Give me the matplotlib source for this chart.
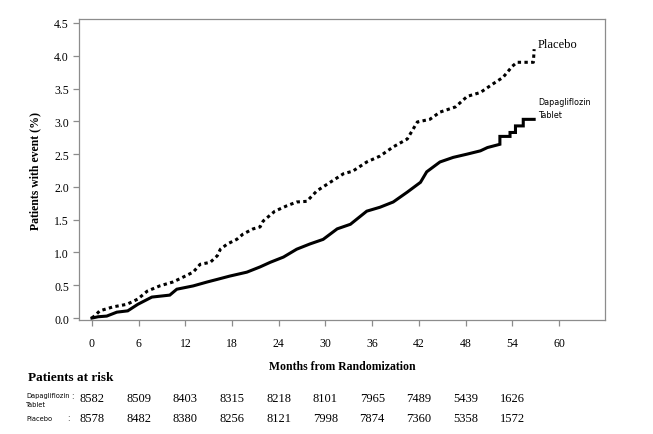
import numpy as np
import matplotlib
matplotlib.use('Agg')
import matplotlib.pyplot as plt
import matplotlib.transforms as mtransforms

# cumulative incidence (months, %)
placebo_t = [0, 0.5, 1.0, 2.7, 4.5, 5.9, 7.1, 8.7, 10.4, 11.3, 13.0, 13.9, 15.2,
             16.1, 16.5, 17.4, 18.6, 19.4, 20.7, 21.6, 22.0, 23.5, 25.0, 26.3,
             27.6, 28.9, 30.6, 32.3, 33.5, 35.3, 37.0, 38.7, 40.5, 41.8, 43.4,
             44.7, 46.7, 48.2, 49.9, 51.5, 52.8, 54.0, 54.6, 56.7, 56.8]
placebo_y = [0.0, 0.05, 0.11, 0.17, 0.21, 0.29, 0.41, 0.49, 0.55, 0.60, 0.70, 0.82, 0.85,
             0.95, 1.05, 1.13, 1.20, 1.28, 1.36, 1.39, 1.48, 1.63, 1.71, 1.77,
             1.78, 1.94, 2.07, 2.20, 2.24, 2.38, 2.47, 2.61, 2.73, 2.99, 3.03,
             3.14, 3.22, 3.38, 3.44, 3.57, 3.67, 3.84, 3.90, 3.90, 4.10]

dapa_t = [0, 0.8, 1.9, 3.2, 4.6, 5.9, 7.7, 10.0, 10.9, 13.0, 14.8, 16.1, 17.7,
          19.9, 21.6, 22.9, 24.6, 26.3, 28.0, 29.7, 31.5, 33.2, 35.3, 37.0,
          38.7, 40.5, 42.2, 43.0, 44.7, 46.4, 48.2, 49.9, 50.8, 52.4, 52.4,
          52.8, 53.7, 53.7, 54.4, 54.4, 55.4, 55.4, 56.8]
dapa_y = [0.0, 0.02, 0.03, 0.09, 0.11, 0.21, 0.32, 0.35, 0.44, 0.49, 0.55, 0.59, 0.64,
          0.70, 0.78, 0.85, 0.93, 1.05, 1.13, 1.20, 1.36, 1.43, 1.63, 1.69,
          1.77, 1.92, 2.07, 2.23, 2.38, 2.45, 2.50, 2.55, 2.60, 2.65, 2.77,
          2.77, 2.77, 2.83, 2.83, 2.93, 2.93, 3.03, 3.03]

risk_months = [0, 6, 12, 18, 24, 30, 36, 42, 48, 54]
risk_dapa = [8582, 8509, 8403, 8315, 8218, 8101, 7965, 7489, 5439, 1626]
risk_placebo = [8578, 8482, 8380, 8256, 8121, 7998, 7874, 7360, 5358, 1572]

serif = 'Liberation Serif'
sans = 'DejaVu Sans'
grey = '#8c8c8c'

fig = plt.figure(figsize=(6.53, 4.35), dpi=100)
ax = fig.add_axes([0.1205, 0.262, 0.806, 0.692])

ax.plot(dapa_t, dapa_y, color='black', lw=2.2, solid_joinstyle='miter')
ax.plot(placebo_t, placebo_y, color='black', lw=2.2,
        linestyle=(0, (1.1, 1.1)))

ax.set_xlim(-1.7, 65.9)
ax.set_ylim(-0.03, 4.56)
ax.set_xticks(np.arange(0, 61, 6))
ax.set_yticks(np.arange(0, 4.51, 0.5))
ax.set_yticklabels(['%.1f' % v for v in np.arange(0, 4.51, 0.5)])
for s in ax.spines.values():
    s.set_color(grey)
    s.set_linewidth(0.9)
ax.tick_params(direction='out', length=4, width=0.9, color=grey,
               labelsize=8.5, pad=3)
for lab in ax.get_xticklabels() + ax.get_yticklabels():
    lab.set_fontfamily(serif)
ax.tick_params(axis='x', pad=8)

ax.set_xlabel('Months from Randomization', fontfamily=serif, fontweight='bold',
              fontsize=8.5, labelpad=8)
ax.set_ylabel('Patients with event (%)', fontfamily=serif, fontweight='bold',
              fontsize=8.5, labelpad=9)

ax.text(57.3, 4.18, 'Placebo', fontfamily=serif, fontsize=9, va='center')
ax.text(57.3, 3.2, 'Dapagliflozin\nTablet', fontfamily=sans, fontsize=5.8,
        va='center', linespacing=1.55)

# patients at risk table
fig.text(28 / 653, 1 - 378 / 435, 'Patients at risk', fontfamily=serif,
         fontweight='bold', fontsize=9.5, va='center')
trans = mtransforms.blended_transform_factory(ax.transData, fig.transFigure)
y1 = 1 - 399 / 435
y2 = 1 - 419 / 435
fig.text(26 / 653, 1 - 396 / 435, 'Dapagliflozin', fontfamily=sans, fontsize=4.8, va='center')
fig.text(26 / 653, 1 - 405 / 435, 'Tablet', fontfamily=sans, fontsize=4.8, va='center')
fig.text(26 / 653, y2, 'Placebo', fontfamily=sans, fontsize=4.8, va='center')
fig.text(71 / 653, 1 - 397 / 435, ':', fontfamily=sans, fontsize=5.5, va='center')
fig.text(67 / 653, y2, ':', fontfamily=sans, fontsize=5.5, va='center')
for m, a, b in zip(risk_months, risk_dapa, risk_placebo):
    fig.text(m, y1, str(a), transform=trans, ha='center', va='center',
             fontfamily=serif, fontsize=9)
    fig.text(m, y2, str(b), transform=trans, ha='center', va='center',
             fontfamily=serif, fontsize=9)

fig.savefig('out.png', dpi=100)
